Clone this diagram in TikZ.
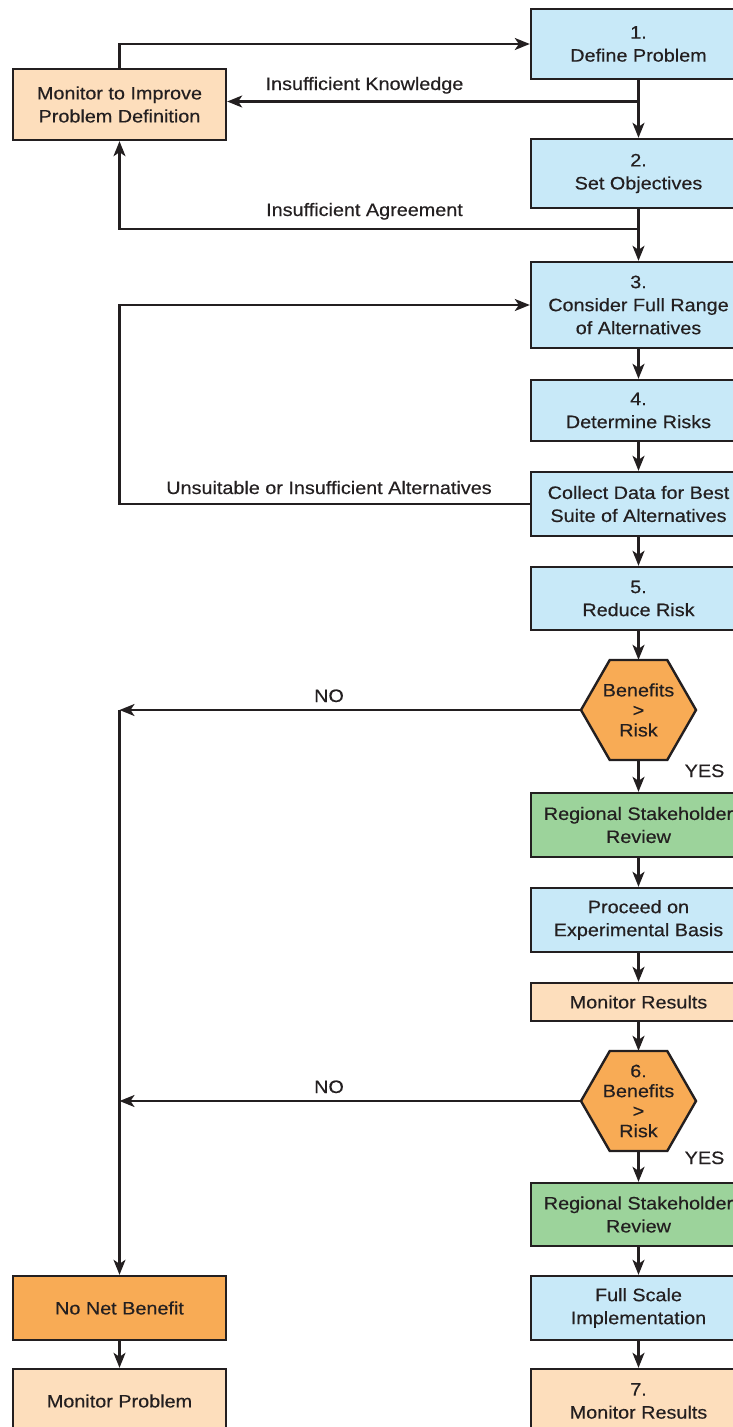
\documentclass[tikz,border=0pt]{standalone}
\usepackage{fontspec}
\setmainfont{Liberation Sans}[FakeStretch=1.1, FakeBold=0.4]
\usetikzlibrary{arrows.meta}
\definecolor{ink}{RGB}{35,31,32}
\definecolor{boxblue}{RGB}{200,233,248}
\definecolor{boxpeach}{RGB}{253,222,188}
\definecolor{boxorange}{RGB}{248,171,85}
\definecolor{boxgreen}{RGB}{156,211,155}
\tikzset{
  txt/.style={font=\fontsize{18pt}{23pt}\selectfont, text=ink},
  boxbase/.style={txt, draw=ink, line width=2.4pt, align=center, inner sep=0pt},
  rbox/.style={boxbase, minimum width=215pt},
  lbox/.style={boxbase, minimum width=213pt},
  blue/.style={fill=boxblue},
  peach/.style={fill=boxpeach},
  orange/.style={fill=boxorange},
  green/.style={fill=boxgreen},
  hexshape/.style={draw=ink, line width=2.4pt, fill=boxorange, line join=miter},
  hextext/.style={font=\fontsize{18pt}{20pt}\selectfont, text=ink, align=center, inner sep=0pt, minimum width=115pt, minimum height=100pt},
  arr/.style={draw=ink, line width=2.2pt, -{Stealth[length=15pt, width=12pt, inset=4pt]}},
  lbl/.style={txt, anchor=base, inner sep=0pt}
}
\begin{document}
\begin{tikzpicture}[x=1pt, y=-1pt]
\useasboundingbox (0,0) rectangle (733,1427);
\clip (0,0) rectangle (733,1427);

% right column
\node[rbox, blue, minimum height=70pt] (b1) at (638.5,44) {1.\\Define Problem};
\node[rbox, blue, minimum height=69pt] (b2) at (638.5,173.5) {2.\\Set Objectives};
\node[rbox, blue, minimum height=86pt] (b3) at (638.5,305) {3.\\Consider Full Range\\of Alternatives};
\node[rbox, blue, minimum height=61pt] (b4) at (638.5,410.5) {4.\\Determine Risks};
\node[rbox, blue, minimum height=64pt] (bc) at (638.5,504) {Collect Data for Best\\Suite of Alternatives};
\node[rbox, blue, minimum height=63pt] (b5) at (638.5,598.5) {5.\\Reduce Risk};

\coordinate (h1) at (638.5,710);
\draw[hexshape, shift={(h1)}] (-57.5,0) -- (-28.75,-50) -- (28.75,-50) -- (57.5,0) -- (28.75,50) -- (-28.75,50) -- cycle;
\node[hextext] (hex1) at (h1) {Benefits\\>\\Risk};

\node[rbox, green, minimum height=64pt] (r1) at (638.5,825) {Regional Stakeholder\\Review};
\node[rbox, blue, minimum height=64pt] (pr) at (638.5,920) {Proceed on\\Experimental Basis};
\node[rbox, peach, minimum height=38pt] (mr) at (638.5,1002) {Monitor Results};

\coordinate (h2) at (638.5,1101);
\draw[hexshape, shift={(h2)}] (-57.5,0) -- (-28.75,-50) -- (28.75,-50) -- (57.5,0) -- (28.75,50) -- (-28.75,50) -- cycle;
\node[hextext] (hex2) at (h2) {6.\\Benefits\\>\\Risk};

\node[rbox, green, minimum height=63pt] (r2) at (638.5,1214.5) {Regional Stakeholder\\Review};
\node[rbox, blue, minimum height=64pt] (fs) at (638.5,1308) {Full Scale\\Implementation};
\node[rbox, peach, minimum height=64pt] (m7) at (638.5,1401) {7.\\Monitor Results};

% left column
\node[lbox, peach, minimum height=71pt] (mi) at (119.5,104.5) {Monitor to Improve\\Problem Definition};
\node[lbox, orange, minimum height=64pt] (nn) at (119.5,1308) {No Net Benefit};
\node[lbox, peach, minimum height=64pt] (mp) at (119.5,1401) {Monitor Problem};

% connectors
\draw[arr] (mi.north) |- (b1.west);
\draw[arr] (b1.south) -- (b2.north);
\coordinate (kn) at (638.5,101.5);
\draw[arr] (kn) -- (kn -| mi.east);
\coordinate (ag) at (638.5,229);
\draw[arr] (b2.south) -- (b3.north);
\draw[arr] (ag) -| (mi.south);
\coordinate (alt) at (119.5,504);
\draw[arr] (bc.west) -- (alt) |- (b3.west);
\draw[arr] (b3.south) -- (b4.north);
\draw[arr] (b4.south) -- (bc.north);
\draw[arr] (bc.south) -- (b5.north);
\draw[arr] (b5.south) -- (hex1.north);
\coordinate (n1) at (119.5,710);
\coordinate (n2) at (119.5,1101);
\draw[arr] (hex1.west) -- (n1);
\draw[arr] (hex2.west) -- (n2);
\draw[arr] (n1) -- (nn.north);
\draw[arr] (hex1.south) -- (r1.north);
\draw[arr] (r1.south) -- (pr.north);
\draw[arr] (pr.south) -- (mr.north);
\draw[arr] (mr.south) -- (hex2.north);
\draw[arr] (hex2.south) -- (r2.north);
\draw[arr] (r2.south) -- (fs.north);
\draw[arr] (fs.south) -- (m7.north);
\draw[arr] (nn.south) -- (mp.north);

% labels
\node[lbl] (l1) at (364.5,90) {Insufficient Knowledge};
\node[lbl] (l2) at (364.5,216) {Insufficient Agreement};
\node[lbl] (l3) at (329,494) {Unsuitable or Insufficient Alternatives};
\node[lbl] (l4) at (329,702) {NO};
\node[lbl] (l5) at (329,1093) {NO};
\node[lbl] (l6) at (704.5,777) {YES};
\node[lbl] (l7) at (704.5,1164) {YES};
\end{tikzpicture}
\end{document}
